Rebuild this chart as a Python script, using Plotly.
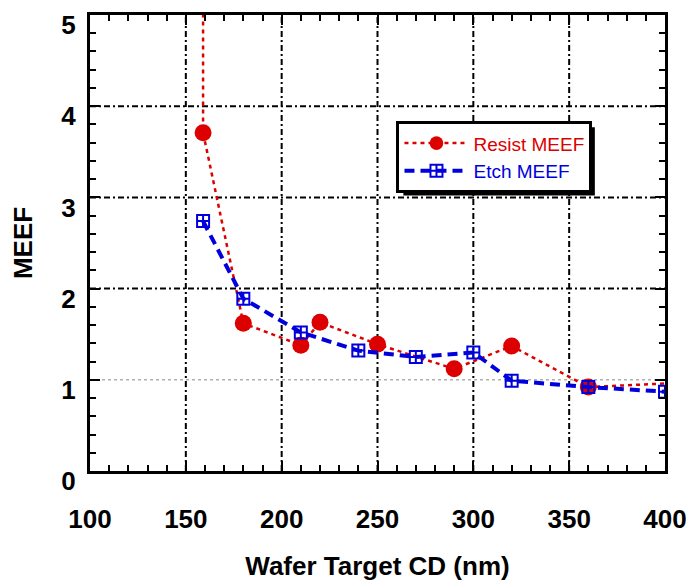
import plotly.graph_objects as go

# Data
resist_x = [159, 159, 180, 210, 220, 250, 290, 320, 360, 400]
resist_y = [8.0, 3.71, 1.62, 1.38, 1.63, 1.39, 1.12, 1.37, 0.92, 0.96]
resist_marker = [0, 17, 17, 17, 17, 17, 17, 17, 17, 0]

etch_x = [159, 180, 210, 240, 270, 300, 320, 360, 400]
etch_y = [2.74, 1.89, 1.52, 1.32, 1.25, 1.30, 0.99, 0.92, 0.87]

x_ticks = [100, 150, 200, 250, 300, 350, 400]
y_ticks = [0, 1, 2, 3, 4, 5]
x_grid = [150, 200, 250, 300, 350]
y_grid = [2, 3, 4]
y_ref = [1]

FONT = "Liberation Sans, Arial, sans-serif"
RED = "#dd0000"
BLUE = "#0000dd"

fig = go.Figure()
fig.add_trace(go.Scatter(
    x=resist_x, y=resist_y, mode="lines+markers",
    name=f"<span style='color:{RED}'>Resist MEEF</span>",
    line=dict(color=RED, width=2.5, dash="4px,4px"),
    marker=dict(symbol="circle", size=resist_marker, color=RED,
                line=dict(width=0), opacity=1),
))
fig.add_trace(go.Scatter(
    x=etch_x, y=etch_y, mode="lines+markers",
    name=f"<span style='color:{BLUE}'>Etch MEEF</span>",
    line=dict(color=BLUE, width=4, dash="10px,6px"),
    marker=dict(symbol="square-cross-open", size=12, color=BLUE,
                line=dict(width=2, color=BLUE)),
))

shapes = []
for gx in x_grid:
    shapes.append(dict(type="line", xref="x", yref="paper", x0=gx, x1=gx, y0=0, y1=1,
                       line=dict(color="black", width=2, dash="6px,3px,2px,3px"), layer="below"))
for gy in y_grid:
    shapes.append(dict(type="line", xref="paper", yref="y", x0=0, x1=1, y0=gy, y1=gy,
                       line=dict(color="black", width=2, dash="6px,3px,2px,3px"), layer="below"))
for gy in y_ref:
    shapes.append(dict(type="line", xref="paper", yref="y", x0=0, x1=1, y0=gy, y1=gy,
                       line=dict(color="#b0b0b0", width=1.5, dash="dot"), layer="below"))
# legend shadow
shapes.append(dict(type="rect", xref="paper", yref="paper",
                   x0=0.545, x1=0.878, y0=0.604, y1=0.754,
                   fillcolor="black", line=dict(width=0), layer="above"))

axis_common = dict(
    showline=True, linecolor="black", linewidth=3, mirror="allticks",
    ticks="inside", ticklen=10, tickwidth=2, tickcolor="black",
    showgrid=False, zeroline=False,
    tickfont=dict(family=FONT, size=26, color="black", weight="bold"),
)

fig.update_layout(
    width=697, height=586,
    margin=dict(l=90, r=31, t=10, b=113),
    paper_bgcolor="white", plot_bgcolor="white",
    font=dict(family=FONT, color="black"),
    shapes=shapes,
    xaxis=dict(
        range=[100, 400], tickvals=x_ticks, ticktext=[str(v) for v in x_ticks],
        ticklabelstandoff=23,
        minor=dict(ticks="inside", ticklen=6, tickwidth=2, tickcolor="black", dtick=10),
        title=dict(text="Wafer Target CD (nm)", standoff=24,
                   font=dict(family=FONT, size=26, color="black", weight="bold")),
        **axis_common,
    ),
    yaxis=dict(
        range=[0, 5], tickvals=y_ticks, ticktext=[str(v) for v in y_ticks],
        ticklabelstandoff=6, ticklabelshift=10,
        minor=dict(ticks="inside", ticklen=6, tickwidth=2, tickcolor="black", dtick=0.2),
        title=dict(text="MEEF", standoff=22,
                   font=dict(family=FONT, size=26, color="black", weight="bold")),
        **axis_common,
    ),
    legend=dict(
        x=0.533, y=0.767, xanchor="left", yanchor="top",
        bgcolor="white", bordercolor="black", borderwidth=3,
        font=dict(family=FONT, size=19),
        itemwidth=64, tracegroupgap=0,
    ),
    showlegend=True,
)

fig.write_html("out.html")
